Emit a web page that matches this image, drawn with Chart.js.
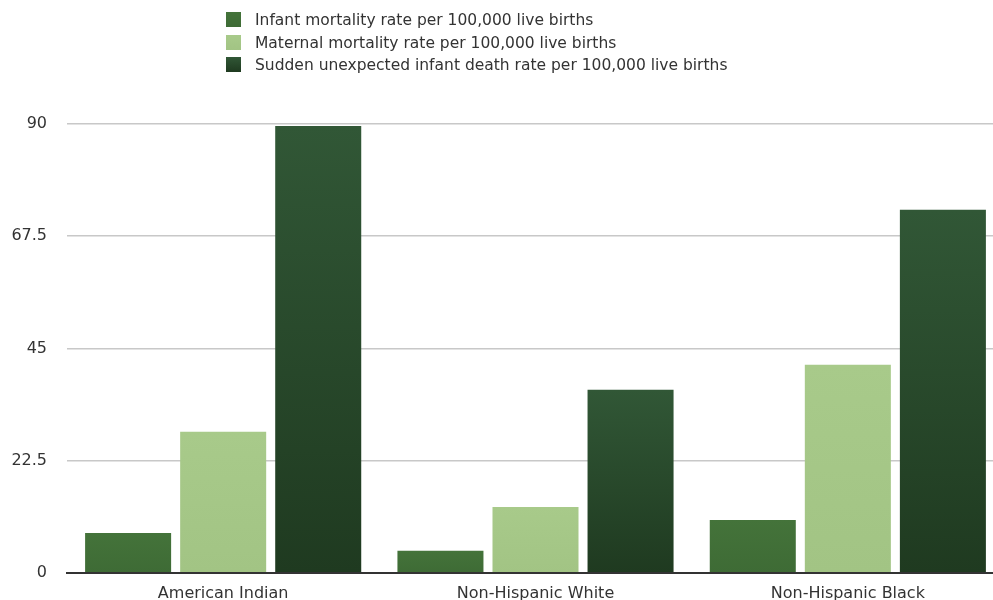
<!DOCTYPE html>
<html lang="en">
<head>
    <meta charset="UTF-8">
    <title>Mortality rates by race</title>
    <script src="https://cdn.jsdelivr.net/npm/chart.js"></script>
    <style>
        body {
            margin: 0;
            background-color: #ffffff;
            overflow: hidden;
            font-family: "DejaVu Sans", sans-serif;
        }
        .chart-container {
            position: relative;
            width: 1004px;
            height: 614px;
        }
        #legend {
            position: absolute;
            left: 226px;
            top: 9px;
            font-size: 15.5px;
            color: #333;
        }
        .legend-row {
            height: 22.5px;
            line-height: 22.5px;
            white-space: nowrap;
        }
        .legend-box {
            display: inline-block;
            width: 15px;
            height: 15px;
            margin-right: 14px;
            vertical-align: -2px;
        }
    </style>
</head>
<body>
    <div class="chart-container">
        <canvas id="mortalityChart"></canvas>
        <div id="legend"></div>
    </div>

    <script>
        const categories = ['American Indian', 'Non-Hispanic White', 'Non-Hispanic Black'];
        const seriesNames = [
            'Infant mortality rate per 100,000 live births',
            'Maternal mortality rate per 100,000 live births',
            'Sudden unexpected infant death rate per 100,000 live births'
        ];
        const infantMortality = [8.0, 4.4, 10.6];
        const maternalMortality = [28.3, 13.2, 41.7];
        const suddenInfantDeath = [89.6, 36.7, 72.8];
        const yTicks = [0, 22.5, 45, 67.5, 90];

        // top / bottom colours of each series (bars are shaded a little)
        const colors = [
            ['#44733a', '#3e6b35'],
            ['#a8ca8a', '#a2c484'],
            ['#315736', '#1f3a20']
        ];

        function barGradient(ctx, i) {
            const chart = ctx.chart;
            if (!chart.chartArea || ctx.parsed === undefined) return colors[i][0];
            const y = chart.scales.y;
            const top = y.getPixelForValue(ctx.parsed.y);
            const base = y.getPixelForValue(0);
            if (!isFinite(top) || top === base) return colors[i][0];
            const g = chart.ctx.createLinearGradient(0, top, 0, base);
            g.addColorStop(0, colors[i][0]);
            g.addColorStop(1, colors[i][1]);
            return g;
        }

        const allSeries = [infantMortality, maternalMortality, suddenInfantDeath];

        const chart = new Chart(document.getElementById('mortalityChart'), {
            type: 'bar',
            data: {
                labels: categories,
                datasets: allSeries.map((values, i) => ({
                    label: seriesNames[i],
                    data: values,
                    backgroundColor: (ctx) => barGradient(ctx, i),
                    borderWidth: 0,
                    categoryPercentage: 0.913,
                    barPercentage: 0.905
                }))
            },
            options: {
                responsive: true,
                maintainAspectRatio: false,
                animation: false,
                layout: {
                    padding: { top: 124, left: 10, right: 0, bottom: 0 }
                },
                scales: {
                    x: {
                        grid: { display: false, drawTicks: false },
                        border: { color: '#333', width: 2 },
                        ticks: {
                            color: '#333',
                            padding: 11,
                            font: { family: 'DejaVu Sans', size: 16 }
                        }
                    },
                    y: {
                        min: 0,
                        max: 90,
                        afterBuildTicks: (axis) => {
                            axis.ticks = yTicks.map(v => ({ value: v }));
                        },
                        afterFit: (axis) => {
                            axis.width = 57;
                        },
                        grid: { color: '#c8c8c8', lineWidth: 1.5, drawTicks: false },
                        border: { display: false },
                        ticks: {
                            color: '#333',
                            padding: 20,
                            font: { family: 'DejaVu Sans', size: 16 }
                        }
                    }
                },
                plugins: {
                    legend: { display: false },
                    tooltip: { enabled: false }
                }
            }
        });

        // vertical legend above the plot
        const legendEl = document.getElementById('legend');
        seriesNames.forEach((name, i) => {
            const row = document.createElement('div');
            row.className = 'legend-row';
            const box = document.createElement('span');
            box.className = 'legend-box';
            box.style.background = 'linear-gradient(' + colors[i][0] + ',' + colors[i][1] + ')';
            row.appendChild(box);
            row.appendChild(document.createTextNode(name));
            legendEl.appendChild(row);
        });
    </script>
</body>
</html>
